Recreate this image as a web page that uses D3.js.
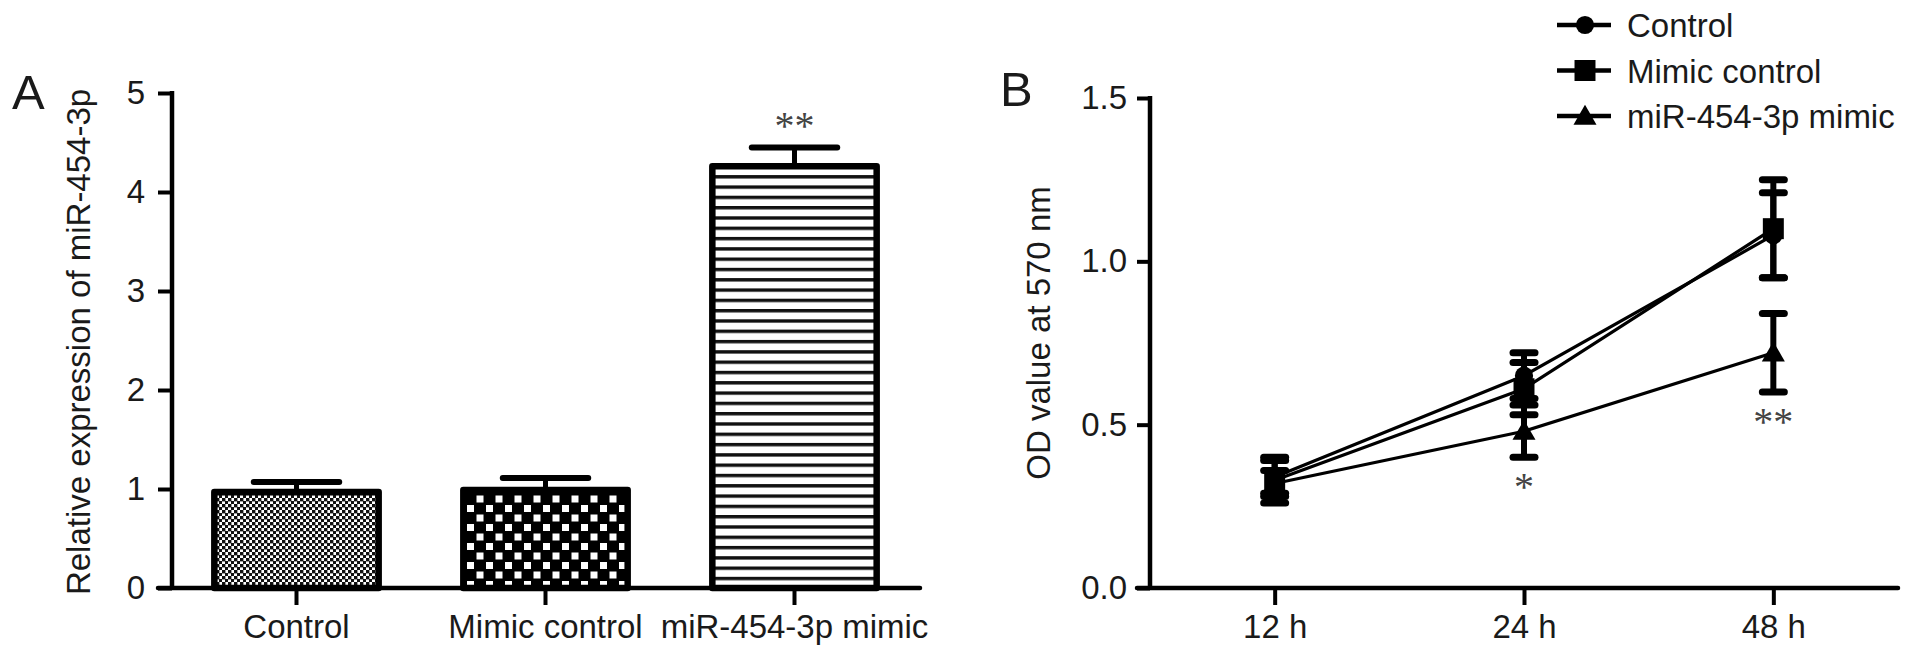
<!DOCTYPE html>
<html>
<head>
<meta charset="utf-8">
<script src="https://cdn.jsdelivr.net/npm/d3@7"></script>
<style>
  html, body { margin: 0; padding: 0; background: #fff; }
  svg { display: block; }
  text { font-family: "Liberation Sans", Arial, Helvetica, sans-serif; fill: #1a1a1a; }
</style>
</head>
<body>
<svg id="chart" width="1913" height="661"></svg>
<script>
// ---------- Panel A data ----------
const barCategories = ["Control", "Mimic control", "miR-454-3p mimic"];
const barValues = [1.00, 1.02, 4.29];
const barErrors = [0.07, 0.09, 0.16];
const barSignificance = ["", "", "**"];
const barPatterns = ["pat-dots", "pat-check", "pat-stripe"];
const yTicksA = [0, 1, 2, 3, 4, 5];

// ---------- Panel B data ----------
const timePoints = ["12 h", "24 h", "48 h"];
const seriesNames = ["Control", "Mimic control", "miR-454-3p mimic"];
const controlOD = [0.34, 0.65, 1.08];
const controlSD = [0.05, 0.07, 0.13];
const mimicControlOD = [0.33, 0.61, 1.10];
const mimicControlSD = [0.07, 0.08, 0.15];
const mimicOD = [0.32, 0.48, 0.72];
const mimicSD = [0.04, 0.08, 0.12];
const lineSignificance = ["", "*", "**"];
const seriesSymbols = ["circle", "square", "triangle"];
const yTicksB = [0, 0.5, 1.0, 1.5];

const svg = d3.select("#chart");
const FS = 33;

// ---------- patterns ----------
const defs = svg.append("defs");
const p1 = defs.append("pattern").attr("id", "pat-dots").attr("patternUnits", "userSpaceOnUse")
  .attr("width", 6).attr("height", 6);
p1.append("rect").attr("width", 6).attr("height", 6).attr("fill", "#fff");
p1.append("rect").attr("x", 0).attr("y", 0).attr("width", 3.4).attr("height", 3.4).attr("fill", "#111");
p1.append("rect").attr("x", 3).attr("y", 3).attr("width", 3.4).attr("height", 3.4).attr("fill", "#111");

const p2 = defs.append("pattern").attr("id", "pat-check").attr("patternUnits", "userSpaceOnUse")
  .attr("width", 19).attr("height", 19);
p2.append("rect").attr("width", 19).attr("height", 19).attr("fill", "#000");
p2.append("rect").attr("x", 1.5).attr("y", 1.5).attr("width", 7).attr("height", 7).attr("fill", "#fff");
p2.append("rect").attr("x", 11).attr("y", 11).attr("width", 7).attr("height", 7).attr("fill", "#fff");

const p3 = defs.append("pattern").attr("id", "pat-stripe").attr("patternUnits", "userSpaceOnUse")
  .attr("width", 10).attr("height", 10.3);
p3.append("rect").attr("width", 10).attr("height", 10.3).attr("fill", "#fff");
p3.append("rect").attr("x", 0).attr("y", 0).attr("width", 10).attr("height", 3.4).attr("fill", "#111");

// ================= Panel A =================
const gA = svg.append("g");
const xA = d3.scaleBand().domain(barCategories).range([172, 919]).paddingInner(0.34).paddingOuter(0.17);
const yA = d3.scaleLinear().domain([0, 5]).range([588, 93]);

barCategories.forEach((c, i) => {
  const x0 = xA(c), w = xA.bandwidth();
  const yTop = yA(barValues[i]);
  const cx = x0 + w / 2;
  const yErr = yA(barValues[i] + barErrors[i]);
  gA.append("line").attr("x1", cx).attr("x2", cx).attr("y1", yTop).attr("y2", yErr)
    .attr("stroke", "#000").attr("stroke-width", 5);
  gA.append("line").attr("x1", cx - w * 0.26).attr("x2", cx + w * 0.26).attr("y1", yErr).attr("y2", yErr)
    .attr("stroke", "#000").attr("stroke-width", 6).attr("stroke-linecap", "round");
  gA.append("rect").attr("x", x0).attr("y", yTop + 3).attr("width", w).attr("height", yA(0) - yTop - 3)
    .attr("fill", `url(#${barPatterns[i]})`).attr("stroke", "#000").attr("stroke-width", 6.5)
    .attr("stroke-linejoin", "round");
  if (barSignificance[i]) {
    gA.append("text").attr("x", cx).attr("y", yErr - 27 + 0.47 * 40)
      .attr("text-anchor", "middle").style("font-family", "'Liberation Serif', 'Times New Roman', serif")
      .style("font-size", "40px").style("fill", "#444").text(barSignificance[i]);
  }
});

const yAxisA = d3.axisLeft(yA).tickValues(yTicksA).tickSize(14).tickPadding(13).tickFormat(d3.format("d"));
const gyA = gA.append("g").attr("transform", "translate(172,0)").call(yAxisA);
const xAxisA = d3.axisBottom(xA).tickSize(17).tickPadding(10);
const gxA = gA.append("g").attr("transform", `translate(0,${yA(0)})`).call(xAxisA);

[gyA, gxA].forEach(g => {
  g.select(".domain").remove();
  g.selectAll(".tick line").attr("stroke", "#000").attr("stroke-width", 4);
  g.selectAll(".tick text").style("font-size", FS + "px").style("font-family", "'Liberation Sans', Arial, sans-serif").attr("fill", "#1a1a1a");
});
gA.append("line").attr("x1", 172).attr("x2", 172).attr("y1", yA(5) - 2).attr("y2", yA(0) + 2)
  .attr("stroke", "#000").attr("stroke-width", 4.5);
gA.append("line").attr("x1", 158).attr("x2", 920).attr("y1", yA(0)).attr("y2", yA(0))
  .attr("stroke", "#000").attr("stroke-width", 4.5).attr("stroke-linecap", "round");

gA.append("text").attr("transform", `translate(90,342) rotate(-90)`).attr("text-anchor", "middle")
  .style("font-size", FS + "px").text("Relative expression of miR-454-3p");
gA.append("text").attr("x", 12).attr("y", 109).style("font-size", "49px").text("A");

// ================= Panel B =================
const gB = svg.append("g");
const xB = d3.scalePoint().domain(timePoints).range([1150, 1898]).padding(0.5);
const yB = d3.scaleLinear().domain([0, 1.5]).range([588, 98]);

const yAxisB = d3.axisLeft(yB).tickValues(yTicksB).tickSize(13).tickPadding(10).tickFormat(d3.format(".1f"));
const gyB = gB.append("g").attr("transform", "translate(1150,0)").call(yAxisB);
const xAxisB = d3.axisBottom(xB).tickSize(17).tickPadding(10);
const gxB = gB.append("g").attr("transform", `translate(0,${yB(0)})`).call(xAxisB);
[gyB, gxB].forEach(g => {
  g.select(".domain").remove();
  g.selectAll(".tick line").attr("stroke", "#000").attr("stroke-width", 4);
  g.selectAll(".tick text").style("font-size", FS + "px").style("font-family", "'Liberation Sans', Arial, sans-serif").attr("fill", "#1a1a1a");
});
gB.append("line").attr("x1", 1150).attr("x2", 1150).attr("y1", yB(1.5) - 2).attr("y2", yB(0) + 2)
  .attr("stroke", "#000").attr("stroke-width", 4.5);
gB.append("line").attr("x1", 1137).attr("x2", 1898).attr("y1", yB(0)).attr("y2", yB(0))
  .attr("stroke", "#000").attr("stroke-width", 4.5).attr("stroke-linecap", "round");

gB.append("text").attr("transform", `translate(1050,333) rotate(-90)`).attr("text-anchor", "middle")
  .style("font-size", FS + "px").text("OD value at 570 nm");
gB.append("text").attr("x", 1000).attr("y", 106).style("font-size", "49px").text("B");

const series = [
  { name: seriesNames[0], values: controlOD, sd: controlSD, sym: seriesSymbols[0] },
  { name: seriesNames[1], values: mimicControlOD, sd: mimicControlSD, sym: seriesSymbols[1] },
  { name: seriesNames[2], values: mimicOD, sd: mimicSD, sym: seriesSymbols[2] }
];
const symType = { circle: d3.symbolCircle, square: d3.symbolSquare, triangle: d3.symbolTriangle };
const symSize = { circle: 260, square: 440, triangle: 230 };

const line = d3.line().x((d, i) => xB(timePoints[i])).y(d => yB(d));
series.forEach(s => {
  gB.append("path").datum(s.values).attr("d", line).attr("fill", "none")
    .attr("stroke", "#000").attr("stroke-width", 3.2).attr("stroke-linejoin", "round");
});
series.forEach(s => {
  s.values.forEach((v, i) => {
    const cx = xB(timePoints[i]);
    const hi = yB(v + s.sd[i]), lo = yB(v - s.sd[i]);
    gB.append("line").attr("x1", cx).attr("x2", cx).attr("y1", hi).attr("y2", lo)
      .attr("stroke", "#000").attr("stroke-width", 6);
    [hi, lo].forEach(yy => gB.append("line").attr("x1", cx - 11).attr("x2", cx + 11).attr("y1", yy).attr("y2", yy)
      .attr("stroke", "#000").attr("stroke-width", 7).attr("stroke-linecap", "round"));
    gB.append("path").attr("d", d3.symbol().type(symType[s.sym]).size(symSize[s.sym])())
      .attr("transform", `translate(${cx},${yB(v) + (s.sym === "triangle" ? 2 : 0)})`).attr("fill", "#000");
  });
});
timePoints.forEach((t, i) => {
  if (!lineSignificance[i]) return;
  const minLow = d3.min(series, s => s.values[i] - s.sd[i]);
  gB.append("text").attr("x", xB(t)).attr("y", yB(minLow) + 24 + 0.47 * 40)
    .attr("text-anchor", "middle").style("font-family", "'Liberation Serif', 'Times New Roman', serif")
    .style("font-size", "40px").style("fill", "#444").text(lineSignificance[i]);
});

const legend = gB.append("g");
series.forEach((s, i) => {
  const ly = 25 + i * 45.5;
  legend.append("line").attr("x1", 1557).attr("x2", 1611).attr("y1", ly).attr("y2", ly)
    .attr("stroke", "#000").attr("stroke-width", 4.5);
  legend.append("path").attr("d", d3.symbol().type(symType[s.sym]).size(symSize[s.sym])())
    .attr("transform", `translate(1585,${ly + (s.sym === "triangle" ? 2 : 0)})`).attr("fill", "#000");
  legend.append("text").attr("x", 1627).attr("y", ly + 12).style("font-size", FS + "px").text(s.name);
});
</script>
</body>
</html>
